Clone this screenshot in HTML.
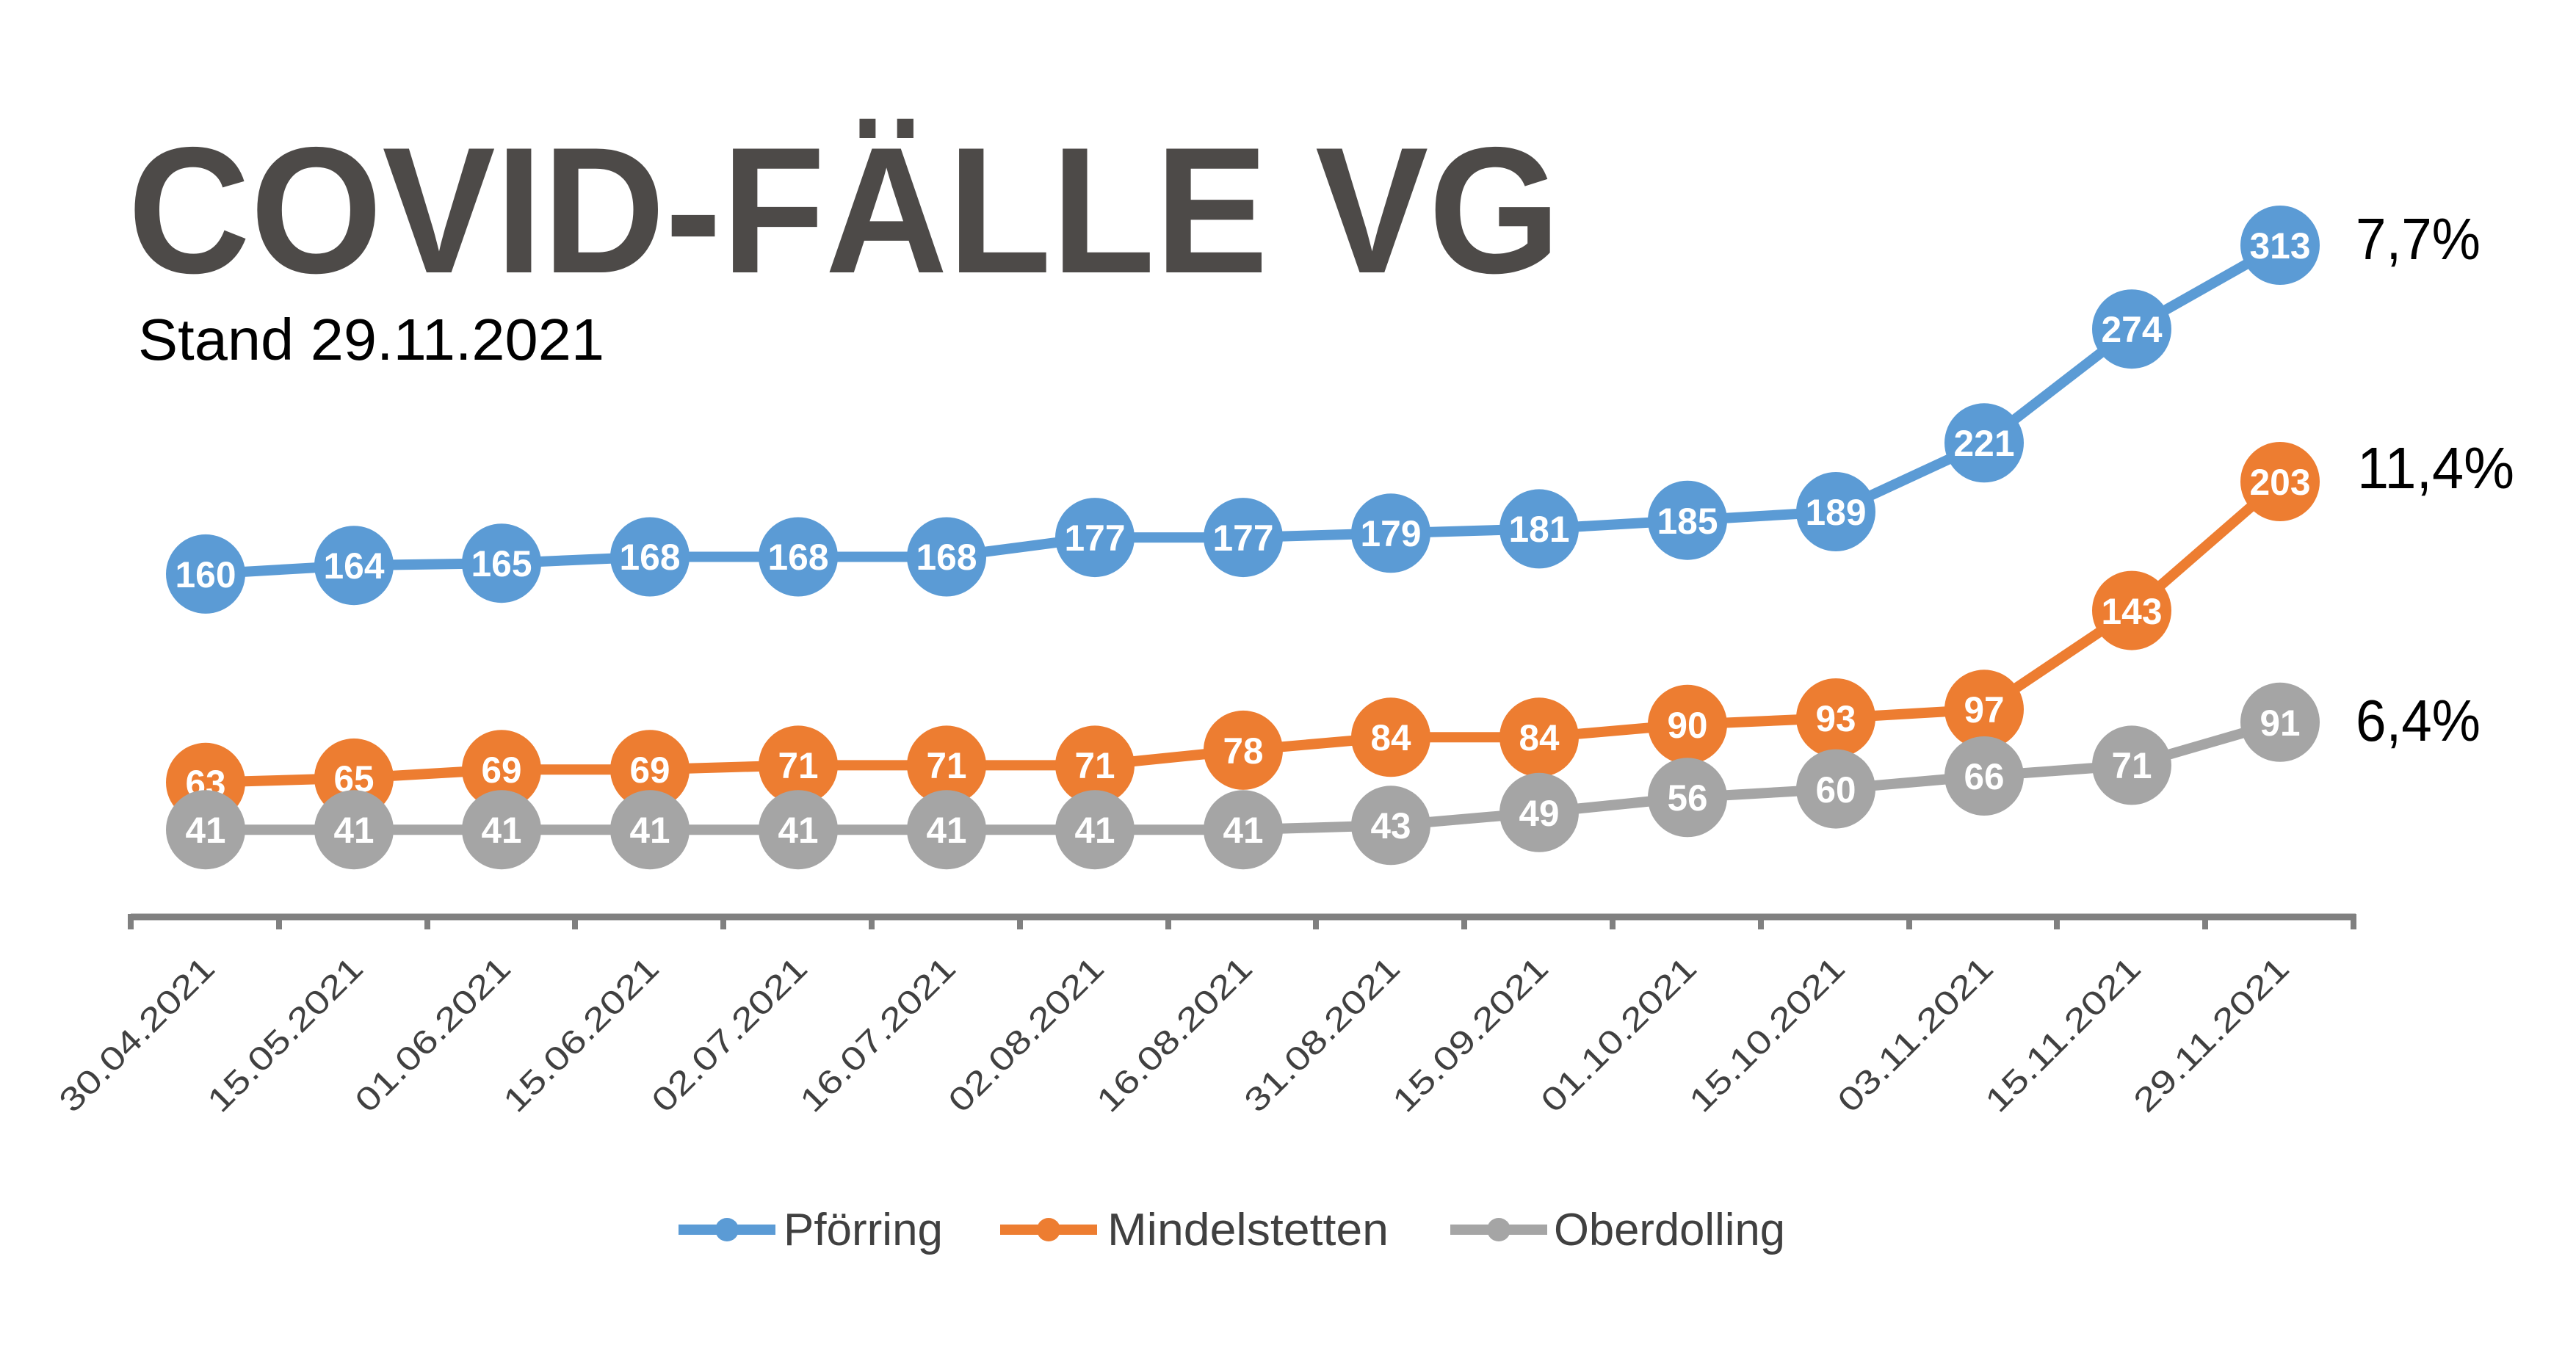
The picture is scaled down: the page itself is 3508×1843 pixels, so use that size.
<!DOCTYPE html>
<html><head><meta charset="utf-8"><style>
html,body{margin:0;padding:0;background:#fff;}
svg{display:block;}
.dl{font-family:"Liberation Sans",sans-serif;font-weight:bold;font-size:50px;fill:#fff;text-anchor:middle;}
.ax{font-family:"Liberation Sans",sans-serif;font-size:45px;fill:#404040;text-anchor:end;}
.lg{font-family:"Liberation Sans",sans-serif;font-size:62px;fill:#404040;}
.pc{font-family:"Liberation Sans",sans-serif;font-size:80px;fill:#000;}
</style></head><body>
<svg width="3508" height="1843" viewBox="0 0 3508 1843" xmlns="http://www.w3.org/2000/svg">
<rect width="3508" height="1843" fill="#fff"/>
<text x="174" y="371" font-family="Liberation Sans,sans-serif" font-weight="bold" font-size="245" fill="#4d4a48" textLength="1951" lengthAdjust="spacingAndGlyphs">COVID-FÄLLE VG</text>
<text x="188" y="490" font-family="Liberation Sans,sans-serif" font-size="80" fill="#000" textLength="635" lengthAdjust="spacingAndGlyphs">Stand 29.11.2021</text>

<!-- axis -->
<line x1="178" y1="1249" x2="3208" y2="1249" stroke="#808080" stroke-width="9"/>
<g stroke="#808080" stroke-width="8">
<line x1="178" y1="1245" x2="178" y2="1266"/><line x1="380" y1="1245" x2="380" y2="1266"/><line x1="582" y1="1245" x2="582" y2="1266"/><line x1="783" y1="1245" x2="783" y2="1266"/><line x1="985" y1="1245" x2="985" y2="1266"/><line x1="1187" y1="1245" x2="1187" y2="1266"/><line x1="1389" y1="1245" x2="1389" y2="1266"/><line x1="1591" y1="1245" x2="1591" y2="1266"/><line x1="1792" y1="1245" x2="1792" y2="1266"/><line x1="1994" y1="1245" x2="1994" y2="1266"/><line x1="2196" y1="1245" x2="2196" y2="1266"/><line x1="2398" y1="1245" x2="2398" y2="1266"/><line x1="2600" y1="1245" x2="2600" y2="1266"/><line x1="2801" y1="1245" x2="2801" y2="1266"/><line x1="3003" y1="1245" x2="3003" y2="1266"/><line x1="3205" y1="1245" x2="3205" y2="1266"/>
</g>
<g class="ax">
<text transform="translate(295,1322) rotate(-45)" textLength="277" lengthAdjust="spacingAndGlyphs">30.04.2021</text>
<text transform="translate(497,1322) rotate(-45)" textLength="277" lengthAdjust="spacingAndGlyphs">15.05.2021</text>
<text transform="translate(698,1322) rotate(-45)" textLength="277" lengthAdjust="spacingAndGlyphs">01.06.2021</text>
<text transform="translate(900,1322) rotate(-45)" textLength="277" lengthAdjust="spacingAndGlyphs">15.06.2021</text>
<text transform="translate(1102,1322) rotate(-45)" textLength="277" lengthAdjust="spacingAndGlyphs">02.07.2021</text>
<text transform="translate(1304,1322) rotate(-45)" textLength="277" lengthAdjust="spacingAndGlyphs">16.07.2021</text>
<text transform="translate(1506,1322) rotate(-45)" textLength="277" lengthAdjust="spacingAndGlyphs">02.08.2021</text>
<text transform="translate(1708,1322) rotate(-45)" textLength="277" lengthAdjust="spacingAndGlyphs">16.08.2021</text>
<text transform="translate(1909,1322) rotate(-45)" textLength="277" lengthAdjust="spacingAndGlyphs">31.08.2021</text>
<text transform="translate(2111,1322) rotate(-45)" textLength="277" lengthAdjust="spacingAndGlyphs">15.09.2021</text>
<text transform="translate(2313,1322) rotate(-45)" textLength="277" lengthAdjust="spacingAndGlyphs">01.10.2021</text>
<text transform="translate(2515,1322) rotate(-45)" textLength="277" lengthAdjust="spacingAndGlyphs">15.10.2021</text>
<text transform="translate(2717,1322) rotate(-45)" textLength="277" lengthAdjust="spacingAndGlyphs">03.11.2021</text>
<text transform="translate(2918,1322) rotate(-45)" textLength="277" lengthAdjust="spacingAndGlyphs">15.11.2021</text>
<text transform="translate(3120,1322) rotate(-45)" textLength="277" lengthAdjust="spacingAndGlyphs">29.11.2021</text>
</g>

<!-- blue -->
<polyline fill="none" stroke="#5b9bd5" stroke-width="14" stroke-linejoin="round" points="280,781.9 482,770.2 683,767.2 885,758.5 1087,758.5 1289,758.5 1491,732.1 1693,732.1 1894,726.3 2096,720.4 2298,708.7 2500,697 2702,603.3 2903,448.2 3105,334"/>
<g fill="#5b9bd5">
<circle cx="280" cy="781.9" r="54"/><circle cx="482" cy="770.2" r="54"/><circle cx="683" cy="767.2" r="54"/><circle cx="885" cy="758.5" r="54"/><circle cx="1087" cy="758.5" r="54"/><circle cx="1289" cy="758.5" r="54"/><circle cx="1491" cy="732.1" r="54"/><circle cx="1693" cy="732.1" r="54"/><circle cx="1894" cy="726.3" r="54"/><circle cx="2096" cy="720.4" r="54"/><circle cx="2298" cy="708.7" r="54"/><circle cx="2500" cy="697" r="54"/><circle cx="2702" cy="603.3" r="54"/><circle cx="2903" cy="448.2" r="54"/><circle cx="3105" cy="334" r="54"/>
</g>
<g class="dl">
<text x="280" y="800" textLength="83" lengthAdjust="spacingAndGlyphs">160</text>
<text x="482" y="788" textLength="83" lengthAdjust="spacingAndGlyphs">164</text>
<text x="683" y="785" textLength="83" lengthAdjust="spacingAndGlyphs">165</text>
<text x="885" y="776" textLength="83" lengthAdjust="spacingAndGlyphs">168</text>
<text x="1087" y="776" textLength="83" lengthAdjust="spacingAndGlyphs">168</text>
<text x="1289" y="776" textLength="83" lengthAdjust="spacingAndGlyphs">168</text>
<text x="1491" y="750" textLength="83" lengthAdjust="spacingAndGlyphs">177</text>
<text x="1693" y="750" textLength="83" lengthAdjust="spacingAndGlyphs">177</text>
<text x="1894" y="744" textLength="83" lengthAdjust="spacingAndGlyphs">179</text>
<text x="2096" y="738" textLength="83" lengthAdjust="spacingAndGlyphs">181</text>
<text x="2298" y="727" textLength="83" lengthAdjust="spacingAndGlyphs">185</text>
<text x="2500" y="715" textLength="83" lengthAdjust="spacingAndGlyphs">189</text>
<text x="2702" y="621" textLength="83" lengthAdjust="spacingAndGlyphs">221</text>
<text x="2903" y="466" textLength="83" lengthAdjust="spacingAndGlyphs">274</text>
<text x="3105" y="352" textLength="83" lengthAdjust="spacingAndGlyphs">313</text>
</g>

<!-- orange -->
<polyline fill="none" stroke="#ed7d31" stroke-width="14" stroke-linejoin="round" points="280,1065.8 482,1059.9 683,1048.2 885,1048.2 1087,1042.4 1289,1042.4 1491,1042.4 1693,1021.9 1894,1004.3 2096,1004.3 2298,986.8 2500,978 2702,966.3 2903,831.6 3105,656"/>
<g fill="#ed7d31">
<circle cx="280" cy="1065.8" r="54"/><circle cx="482" cy="1059.9" r="54"/><circle cx="683" cy="1048.2" r="54"/><circle cx="885" cy="1048.2" r="54"/><circle cx="1087" cy="1042.4" r="54"/><circle cx="1289" cy="1042.4" r="54"/><circle cx="1491" cy="1042.4" r="54"/><circle cx="1693" cy="1021.9" r="54"/><circle cx="1894" cy="1004.3" r="54"/><circle cx="2096" cy="1004.3" r="54"/><circle cx="2298" cy="986.8" r="54"/><circle cx="2500" cy="978" r="54"/><circle cx="2702" cy="966.3" r="54"/><circle cx="2903" cy="831.6" r="54"/><circle cx="3105" cy="656" r="54"/>
</g>
<g class="dl">
<text x="280" y="1084" textLength="55" lengthAdjust="spacingAndGlyphs">63</text>
<text x="482" y="1078" textLength="55" lengthAdjust="spacingAndGlyphs">65</text>
<text x="683" y="1066" textLength="55" lengthAdjust="spacingAndGlyphs">69</text>
<text x="885" y="1066" textLength="55" lengthAdjust="spacingAndGlyphs">69</text>
<text x="1087" y="1060" textLength="55" lengthAdjust="spacingAndGlyphs">71</text>
<text x="1289" y="1060" textLength="55" lengthAdjust="spacingAndGlyphs">71</text>
<text x="1491" y="1060" textLength="55" lengthAdjust="spacingAndGlyphs">71</text>
<text x="1693" y="1040" textLength="55" lengthAdjust="spacingAndGlyphs">78</text>
<text x="1894" y="1022" textLength="55" lengthAdjust="spacingAndGlyphs">84</text>
<text x="2096" y="1022" textLength="55" lengthAdjust="spacingAndGlyphs">84</text>
<text x="2298" y="1005" textLength="55" lengthAdjust="spacingAndGlyphs">90</text>
<text x="2500" y="996" textLength="55" lengthAdjust="spacingAndGlyphs">93</text>
<text x="2702" y="984" textLength="55" lengthAdjust="spacingAndGlyphs">97</text>
<text x="2903" y="850" textLength="83" lengthAdjust="spacingAndGlyphs">143</text>
<text x="3105" y="674" textLength="83" lengthAdjust="spacingAndGlyphs">203</text>
</g>

<!-- gray -->
<polyline fill="none" stroke="#a5a5a5" stroke-width="14" stroke-linejoin="round" points="280,1130.2 482,1130.2 683,1130.2 885,1130.2 1087,1130.2 1289,1130.2 1491,1130.2 1693,1130.2 1894,1124.3 2096,1106.8 2298,1086.3 2500,1074.6 2702,1057 2903,1042.4 3105,983.8"/>
<g fill="#a5a5a5">
<circle cx="280" cy="1130.2" r="54"/><circle cx="482" cy="1130.2" r="54"/><circle cx="683" cy="1130.2" r="54"/><circle cx="885" cy="1130.2" r="54"/><circle cx="1087" cy="1130.2" r="54"/><circle cx="1289" cy="1130.2" r="54"/><circle cx="1491" cy="1130.2" r="54"/><circle cx="1693" cy="1130.2" r="54"/><circle cx="1894" cy="1124.3" r="54"/><circle cx="2096" cy="1106.8" r="54"/><circle cx="2298" cy="1086.3" r="54"/><circle cx="2500" cy="1074.6" r="54"/><circle cx="2702" cy="1057" r="54"/><circle cx="2903" cy="1042.4" r="54"/><circle cx="3105" cy="983.8" r="54"/>
</g>
<g class="dl">
<text x="280" y="1148" textLength="55" lengthAdjust="spacingAndGlyphs">41</text>
<text x="482" y="1148" textLength="55" lengthAdjust="spacingAndGlyphs">41</text>
<text x="683" y="1148" textLength="55" lengthAdjust="spacingAndGlyphs">41</text>
<text x="885" y="1148" textLength="55" lengthAdjust="spacingAndGlyphs">41</text>
<text x="1087" y="1148" textLength="55" lengthAdjust="spacingAndGlyphs">41</text>
<text x="1289" y="1148" textLength="55" lengthAdjust="spacingAndGlyphs">41</text>
<text x="1491" y="1148" textLength="55" lengthAdjust="spacingAndGlyphs">41</text>
<text x="1693" y="1148" textLength="55" lengthAdjust="spacingAndGlyphs">41</text>
<text x="1894" y="1142" textLength="55" lengthAdjust="spacingAndGlyphs">43</text>
<text x="2096" y="1125" textLength="55" lengthAdjust="spacingAndGlyphs">49</text>
<text x="2298" y="1104" textLength="55" lengthAdjust="spacingAndGlyphs">56</text>
<text x="2500" y="1093" textLength="55" lengthAdjust="spacingAndGlyphs">60</text>
<text x="2702" y="1075" textLength="55" lengthAdjust="spacingAndGlyphs">66</text>
<text x="2903" y="1060" textLength="55" lengthAdjust="spacingAndGlyphs">71</text>
<text x="3105" y="1002" textLength="55" lengthAdjust="spacingAndGlyphs">91</text>
</g>

<!-- percentages -->
<text class="pc" x="3208" y="353" textLength="170" lengthAdjust="spacingAndGlyphs">7,7%</text>
<text class="pc" x="3210" y="665" textLength="214" lengthAdjust="spacingAndGlyphs">11,4%</text>
<text class="pc" x="3208" y="1009" textLength="170" lengthAdjust="spacingAndGlyphs">6,4%</text>

<!-- legend -->
<line x1="924" y1="1675" x2="1056" y2="1675" stroke="#5b9bd5" stroke-width="14"/>
<circle cx="990" cy="1675" r="16" fill="#5b9bd5"/>
<text class="lg" x="1067" y="1696" textLength="217" lengthAdjust="spacingAndGlyphs">Pförring</text>
<line x1="1362" y1="1675" x2="1494" y2="1675" stroke="#ed7d31" stroke-width="14"/>
<circle cx="1428" cy="1675" r="16" fill="#ed7d31"/>
<text class="lg" x="1508" y="1696" textLength="383" lengthAdjust="spacingAndGlyphs">Mindelstetten</text>
<line x1="1975" y1="1675" x2="2107" y2="1675" stroke="#a5a5a5" stroke-width="14"/>
<circle cx="2041" cy="1675" r="16" fill="#a5a5a5"/>
<text class="lg" x="2116" y="1696" textLength="315" lengthAdjust="spacingAndGlyphs">Oberdolling</text>
</svg>
</body></html>
